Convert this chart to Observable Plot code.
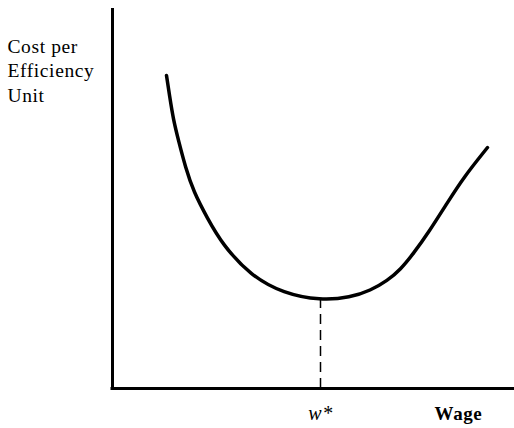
<!DOCTYPE html>
<html>
<head>
<meta charset="utf-8">
<script src="https://cdn.jsdelivr.net/npm/d3@7"></script>
<script src="https://cdn.jsdelivr.net/npm/@observablehq/plot@0.6"></script>
<style>
  html, body { margin: 0; padding: 0; background: #fff; }
  svg text { letter-spacing: 0.6px; }
</style>
</head>
<body>
<div id="chart"></div>
<script>
// Curve (wage, cost per efficiency unit), arbitrary units
const wage = [54, 57, 61, 66, 73, 81, 95, 110, 138, 171, 208, 238, 258, 275, 288, 301, 316, 335, 351, 375];
const cost = [313, 293, 268, 248, 221, 197, 170, 144, 113, 95, 88, 91, 98, 108, 119, 135, 156, 186, 211, 241];
const wStar = 208;
const costAtWStar = 88;
const yLabelLines = ["Cost per", "Efficiency", "Unit"];
const xLabel = "Wage";
const wStarLabel = "w*";

const curve = wage.map((w, i) => ({w, c: cost[i]}));
const yLabels = yLabelLines.map((t, i) => ({t, i}));

const font = '"Liberation Serif", "Times New Roman", serif';
const chart = Plot.plot({
  width: 514,
  height: 428,
  marginLeft: 112,
  marginRight: 0,
  marginTop: 8,
  marginBottom: 40,
  x: {domain: [0, 402], axis: null},
  y: {domain: [0, 380], axis: null},
  style: {fontFamily: font, background: "#fff", overflow: "visible"},
  marks: [
    Plot.ruleX([0], {y1: -1.5, y2: 380, stroke: "#000", strokeWidth: 3}),
    Plot.ruleY([0], {x1: -1.5, x2: 402, stroke: "#000", strokeWidth: 3}),
    Plot.ruleX([wStar], {y1: 0, y2: costAtWStar, stroke: "#000", strokeWidth: 1.5, strokeDasharray: "10,6"}),
    Plot.line(curve, {x: "w", y: "c", curve: "basis", stroke: "#000", strokeWidth: 3.5, strokeLinecap: "round"}),
    Plot.text(yLabels, {x: -105, y: d => 342 - d.i * 24.5, text: "t", textAnchor: "start", lineAnchor: "middle", fontSize: 19.5, fill: "#000", fontFamily: font}),
    Plot.text([wStarLabel], {x: wStar, y: -25, text: d => d, fontSize: 20, fontStyle: "italic", fill: "#000", fontFamily: font, lineAnchor: "middle"}),
    Plot.text([xLabel], {x: 346, y: -25, text: d => d, fontSize: 19, fontWeight: "bold", fill: "#000", fontFamily: font, lineAnchor: "middle"})
  ]
});
document.getElementById("chart").appendChild(chart);
</script>
</body>
</html>
